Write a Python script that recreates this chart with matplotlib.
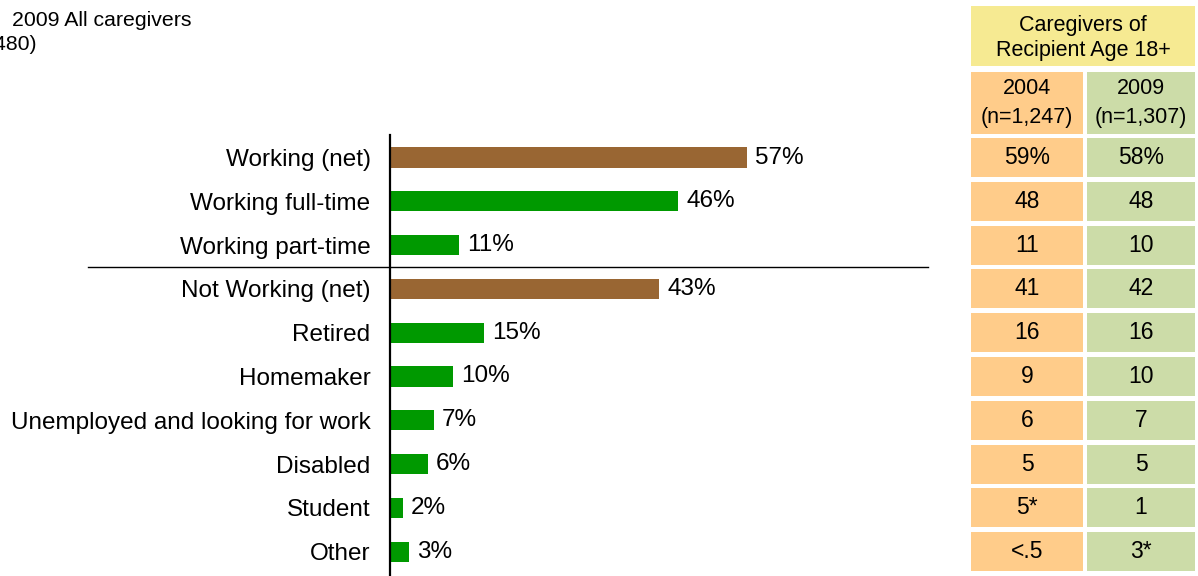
import numpy as np
import matplotlib
matplotlib.use('Agg')
import matplotlib.pyplot as plt
from matplotlib.patches import Rectangle

plt.rcParams['font.family'] = ['Liberation Sans', 'DejaVu Sans']

# employment status, 2009 all caregivers
categories = ['Working (net)', 'Working full-time', 'Working part-time',
              'Not Working (net)', 'Retired', 'Homemaker',
              'Unemployed and looking for work', 'Disabled', 'Student', 'Other']
values = [57, 46, 11, 43, 15, 10, 7, 6, 2, 3]
is_net = [True, False, False, True, False, False, False, False, False, False]

# caregivers of recipient age 18+
col_2004 = ['59%', '48', '11', '41', '16', '9', '6', '5', '5*', '<.5']
col_2009 = ['58%', '48', '10', '42', '16', '10', '7', '5', '1', '3*']
col_heads = ['2004\n(n=1,247)', '2009\n(n=1,307)']
table_title = 'Caregivers of\nRecipient Age 18+'

brown = '#996633'
green = '#009900'
orange_cell = '#FFCC8A'
green_cell = '#CCDCA8'
yellow_cell = '#F6EA92'

W, H = 1198, 576
row0, pitch = 157.5, 43.8

fig = plt.figure(figsize=(W / 100, H / 100), dpi=100)

# pixel-space overlay for the side table and notes
ov = fig.add_axes([0, 0, 1, 1])
ov.set_xlim(0, W)
ov.set_ylim(H, 0)
ov.axis('off')

ov.text(12, 20, '2009 All caregivers', fontsize=15.3, va='center', ha='left')
ov.text(37, 45, '(n=1,480)', fontsize=15.3, va='center', ha='right')

# separator between working and not working groups
sep_y = row0 + pitch * 2.5
ov.plot([88, 928], [sep_y, sep_y], color='black', lw=1)

c1 = (971, 1083)
c2 = (1087, 1195)
ov.add_patch(Rectangle((c1[0], 6), c2[1] - c1[0], 60, color=yellow_cell, lw=0))
ov.text((c1[0] + c2[1]) / 2, 38, table_title, ha='center', va='center',
        fontsize=15.5, linespacing=1.2)
for (x0, x1), head, fc in [(c1, col_heads[0], orange_cell), (c2, col_heads[1], green_cell)]:
    ov.add_patch(Rectangle((x0, 72), x1 - x0, 62, color=fc, lw=0))
    ov.text((x0 + x1) / 2, 103, head, ha='center', va='center', fontsize=15.5,
            linespacing=1.45)

for i, (a, b) in enumerate(zip(col_2004, col_2009)):
    yc = row0 + pitch * i
    for (x0, x1), txt, fc in [(c1, a, orange_cell), (c2, b, green_cell)]:
        ov.add_patch(Rectangle((x0, yc - 19.5), x1 - x0, 39, color=fc, lw=0))
        ov.text((x0 + x1) / 2, yc, txt, ha='center', va='center', fontsize=16.5)

# bar panel
left, right, top = 390, 928, 135
ax = fig.add_axes([left / W, 0, (right - left) / W, (H - top) / H])
ax.patch.set_visible(False)
px_per_pct = 6.26
ax.set_xlim(0, (right - left) / px_per_pct)
ax.set_ylim((H - row0) / pitch, -(row0 - top) / pitch)

ypos = np.arange(len(categories))
colors = [brown if n else green for n in is_net]
ax.barh(ypos, values, height=0.46, color=colors, left=0)
for y, v in zip(ypos, values):
    ax.annotate(f'{v}%', (v, y), xytext=(6, 0), textcoords='offset points',
                va='center', ha='left', fontsize=17.5)

ax.set_yticks(ypos)
ax.set_yticklabels(categories, fontsize=17.5)
ax.tick_params(axis='y', length=0, pad=14)
ax.set_xticks([])
for s in ['top', 'right', 'bottom']:
    ax.spines[s].set_visible(False)
ax.spines['left'].set_linewidth(1.6)
ax.spines['left'].set_color('black')

fig.savefig('out.png', dpi=100)
plt.close(fig)
